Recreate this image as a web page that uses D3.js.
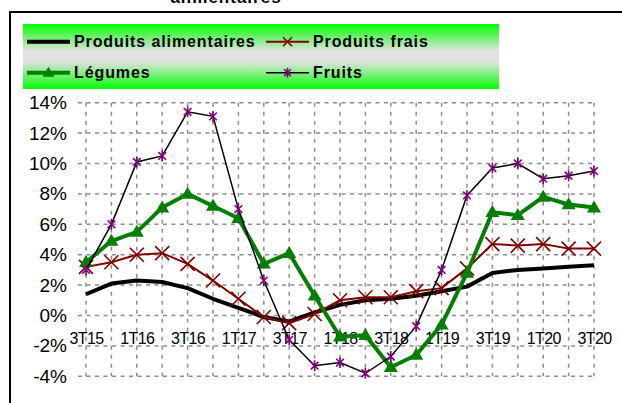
<!DOCTYPE html>
<html>
<head>
<meta charset="utf-8">
<script src="https://cdn.jsdelivr.net/npm/d3@7"></script>
<style>
	body { margin: 0; background: #fff; }
	svg { display: block; font-family: Arial, "Liberation Sans", sans-serif; }
</style>
</head>
<body>
<div id="plot"></div>
<script>
const quarters = ["3T15","4T15","1T16","2T16","3T16","4T16","1T17","2T17","3T17","4T17","1T18","2T18","3T18","4T18","1T19","2T19","3T19","4T19","1T20","2T20","3T20"];
const tickLabels = ["3T15","1T16","3T16","1T17","3T17","1T18","3T18","1T19","3T19","1T20","3T20"];
const yTicks = [-4, -2, 0, 2, 4, 6, 8, 10, 12, 14];

const alimentaires = [1.4, 2.1, 2.3, 2.2, 1.8, 1.1, 0.5, -0.1, -0.4, 0.2, 0.7, 1.0, 1.1, 1.3, 1.6, 1.9, 2.8, 3.0, 3.1, 3.2, 3.3];
const frais = [3.2, 3.5, 4.0, 4.1, 3.4, 2.3, 1.1, -0.1, -0.5, 0.1, 1.0, 1.2, 1.2, 1.6, 1.8, 3.1, 4.7, 4.6, 4.7, 4.4, 4.4];
const legumes = [3.5, 4.9, 5.5, 7.1, 8.0, 7.2, 6.4, 3.4, 4.1, 1.3, -1.4, -1.3, -3.4, -2.6, -0.6, 2.8, 6.8, 6.6, 7.8, 7.3, 7.1];
const fruits = [3.0, 6.0, 10.1, 10.5, 13.4, 13.1, 7.0, 2.3, -1.6, -3.3, -3.1, -3.8, -2.7, -0.7, 3.0, 7.9, 9.7, 10.0, 9.0, 9.2, 9.5];

const width = 622, height = 403;

var svg = d3.select("#plot")
	.append("svg")
	.attr("width", width)
	.attr("height", height);

// legend background gradient
var grad = svg.append("defs").append("linearGradient")
	.attr("id", "legendGrad")
	.attr("x1", 0).attr("y1", 0).attr("x2", 0).attr("y2", 1);
grad.append("stop").attr("offset", "0%").attr("stop-color", "#00ff00");
grad.append("stop").attr("offset", "42%").attr("stop-color", "#e2e2e2");
grad.append("stop").attr("offset", "58%").attr("stop-color", "#e2e2e2");
grad.append("stop").attr("offset", "100%").attr("stop-color", "#00ff00");

// title (only its bottom shows)
svg.append("text")
	.attr("x", 226)
	.attr("y", 3)
	.attr("text-anchor", "middle")
	.style("font-size", "17px")
	.style("font-weight", "bold")
	.style("letter-spacing", "1px")
	.text("alimentaires");

// frame
svg.append("path")
	.attr("d", "M10,410 L10,12 L630,12")
	.attr("fill", "none")
	.attr("stroke", "#000")
	.attr("stroke-width", 2);

var x = d3.scalePoint()
	.domain(quarters)
	.range([86, 594]);

var y = d3.scaleLinear()
	.domain([-4, 14])
	.range([376.3, 102.7]);

// grid
svg.append("g")
	.selectAll("line")
	.data(yTicks)
	.enter()
	.append("line")
		.attr("x1", 78)
		.attr("x2", 594)
		.attr("y1", d => y(d))
		.attr("y2", d => y(d))
		.attr("stroke", "#8c8c8c")
		.attr("stroke-width", 1.5)
		.attr("stroke-dasharray", "4,4.5");

svg.append("g")
	.selectAll("line")
	.data(quarters)
	.enter()
	.append("line")
		.attr("x1", d => x(d))
		.attr("x2", d => x(d))
		.attr("y1", y(14))
		.attr("y2", y(-4))
		.attr("stroke", "#8c8c8c")
		.attr("stroke-width", 1.5)
		.attr("stroke-dasharray", "4,5");

// axes
var yAxis = svg.append("g")
	.attr("transform", "translate(78,0)")
	.call(d3.axisLeft(y).tickValues(yTicks).tickFormat(d => d + "%").tickSize(0).tickPadding(11));
yAxis.select(".domain").remove();
yAxis.selectAll("text")
	.style("font-family", "Arial, 'Liberation Sans', sans-serif")
	.style("font-size", "19px")
	.attr("fill", "#000");

var xAxis = svg.append("g")
	.attr("transform", "translate(0," + y(0) + ")")
	.call(d3.axisBottom(x).tickValues(tickLabels).tickSize(0).tickPadding(17));
xAxis.select(".domain").remove();
xAxis.selectAll("text")
	.style("font-family", "Arial, 'Liberation Sans', sans-serif")
	.style("font-size", "16px")
	.style("letter-spacing", "-0.6px")
	.attr("fill", "#000");

// series
var line = d3.line()
	.x((d, i) => x(quarters[i]))
	.y(d => y(d));

function crossPath(s) { return "M" + -s + "," + -s + "L" + s + "," + s + "M" + -s + "," + s + "L" + s + "," + -s; }
function starPath(s) { return crossPath(s * 0.85) + "M0," + (-s - 1) + "L0," + (s + 1); }
function triPath(w, h) { return "M0," + (-h * 0.6) + "L" + (w / 2) + "," + (h * 0.4) + "L" + (-w / 2) + "," + (h * 0.4) + "Z"; }

svg.append("path")
	.datum(alimentaires)
	.attr("d", line)
	.attr("fill", "none")
	.attr("stroke", "#000")
	.attr("stroke-width", 4)
	.attr("stroke-linejoin", "round");

svg.append("path")
	.datum(frais)
	.attr("d", line)
	.attr("fill", "none")
	.attr("stroke", "#800000")
	.attr("stroke-width", 2);
svg.append("g")
	.selectAll("path")
	.data(frais)
	.enter()
	.append("path")
		.attr("transform", (d, i) => "translate(" + x(quarters[i]) + "," + y(d) + ")")
		.attr("d", crossPath(7))
		.attr("stroke", "#800000")
		.attr("stroke-width", 1.6);

svg.append("path")
	.datum(legumes)
	.attr("d", line)
	.attr("fill", "none")
	.attr("stroke", "#008000")
	.attr("stroke-width", 4)
	.attr("stroke-linejoin", "round");
svg.append("g")
	.selectAll("path")
	.data(legumes)
	.enter()
	.append("path")
		.attr("transform", (d, i) => "translate(" + x(quarters[i]) + "," + y(d) + ")")
		.attr("d", triPath(14, 12))
		.attr("fill", "#008000");

svg.append("path")
	.datum(fruits)
	.attr("d", line)
	.attr("fill", "none")
	.attr("stroke", "#000")
	.attr("stroke-width", 1.5);
svg.append("g")
	.selectAll("path")
	.data(fruits)
	.enter()
	.append("path")
		.attr("transform", (d, i) => "translate(" + x(quarters[i]) + "," + y(d) + ")")
		.attr("d", starPath(4.5))
		.attr("stroke", "#800080")
		.attr("stroke-width", 1.6);

// legend
var legend = svg.append("g");
legend.append("rect")
	.attr("x", 23).attr("y", 24)
	.attr("width", 476).attr("height", 65)
	.attr("fill", "url(#legendGrad)");

var items = [
	{name: "Produits alimentaires", x: 27, y: 41.7, color: "#000", w: 4, mark: null},
	{name: "Produits frais", x: 266, y: 41.7, color: "#800000", w: 2, mark: "cross"},
	{name: "Légumes", x: 27, y: 72.7, color: "#008000", w: 4, mark: "tri"},
	{name: "Fruits", x: 266, y: 72.7, color: "#000", w: 1.5, mark: "star"}
];

items.forEach(function(it) {
	legend.append("line")
		.attr("x1", it.x).attr("x2", it.x + 43)
		.attr("y1", it.y).attr("y2", it.y)
		.attr("stroke", it.color)
		.attr("stroke-width", it.w);
	var cx = it.x + 21.5;
	if (it.mark == "cross") {
		legend.append("path")
			.attr("transform", "translate(" + cx + "," + it.y + ")")
			.attr("d", crossPath(4.5))
			.attr("stroke", "#800000").attr("stroke-width", 1.6);
	} else if (it.mark == "tri") {
		legend.append("path")
			.attr("transform", "translate(" + cx + "," + it.y + ")")
			.attr("d", triPath(12, 10))
			.attr("fill", "#008000");
	} else if (it.mark == "star") {
		legend.append("path")
			.attr("transform", "translate(" + cx + "," + it.y + ")")
			.attr("d", starPath(4))
			.attr("stroke", "#800080").attr("stroke-width", 1.6);
	}
	legend.append("text")
		.attr("x", it.x + 47)
		.attr("y", it.y + 5.3)
		.style("font-size", "16px")
		.style("font-weight", "bold")
		.style("letter-spacing", "0.9px")
		.text(it.name);
});
</script>
</body>
</html>
